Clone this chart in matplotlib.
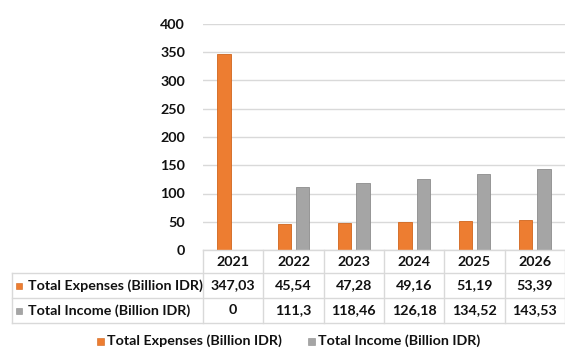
import matplotlib
matplotlib.use("Agg")
import matplotlib.pyplot as plt
from matplotlib.transforms import blended_transform_factory
from matplotlib.lines import Line2D
from matplotlib.patches import Rectangle

years = ["2021", "2022", "2023", "2024", "2025", "2026"]
expenses = [347.03, 45.54, 47.28, 49.16, 51.19, 53.39]
income = [0, 111.3, 118.46, 126.18, 134.52, 143.53]
expenses_labels = ["347,03", "45,54", "47,28", "49,16", "51,19", "53,39"]
income_labels = ["0", "111,3", "118,46", "126,18", "134,52", "143,53"]
series_names = ["Total Expenses (Billion IDR)", "Total Income (Billion IDR)"]
yticks = [0, 50, 100, 150, 200, 250, 300, 350, 400]

ORANGE = "#ED7D31"
ORANGE_EDGE = "#D0651C"
GRAY = "#A5A5A5"
GRAY_EDGE = "#8C8C8C"
GRID = "#D9D9D9"

plt.rcParams['font.family'] = ['Lato', 'DejaVu Sans']
FONT = dict(fontweight='bold', fontsize=10.3, color='#111111')

W, H = 565, 349
fig = plt.figure(figsize=(W / 100, H / 100), dpi=100)

def fx(px):
    return px / W

def fy(py):
    return 1 - py / H

left, right, top, bottom = 203, 565, 24, 250
ax = fig.add_axes([fx(left), fy(bottom), fx(right) - fx(left), fy(top) - fy(bottom)])

x = list(range(len(years)))
bw = 0.22
off = 0.15
ax.bar([i - off for i in x], expenses, width=bw, color=ORANGE, edgecolor=ORANGE_EDGE, linewidth=0.6, zorder=3)
ax.bar([i + off for i in x], income, width=bw, color=GRAY, edgecolor=GRAY_EDGE, linewidth=0.6, zorder=3)
ax.set_xlim(-0.5, len(years) - 0.5)
ax.set_ylim(0, 400)
ax.set_yticks(yticks)
ax.set_yticklabels([str(t) for t in yticks], **FONT)
ax.set_xticks([])
ax.yaxis.grid(True, color=GRID, linewidth=1, zorder=0)
ax.tick_params(axis='y', length=0, pad=13)
for s in ax.spines.values():
    s.set_visible(False)

# table drawn in figure pixel coordinates for y, data coordinates for x
tr = blended_transform_factory(ax.transData, fig.transFigure)
trf = fig.transFigure
row_y = [250, 273, 298, 323]
tbl_left = 12

def hline(x0px, y):
    fig.add_artist(Line2D([fx(x0px), 1], [fy(y), fy(y)], transform=trf, color=GRID, lw=1))

hline(left, row_y[0])
for y in row_y[1:]:
    hline(tbl_left, y)
for b in range(len(years) + 1):
    xb = b - 0.5
    fig.add_artist(Line2D([xb, xb], [fy(row_y[0]), fy(row_y[3])], transform=tr, color=GRID, lw=1))
fig.add_artist(Line2D([fx(tbl_left), fx(tbl_left)], [fy(row_y[1]), fy(row_y[3])], transform=trf, color=GRID, lw=1))

def mid(r):
    return fy((row_y[r] + row_y[r + 1]) / 2)

for i in x:
    fig.text(i, mid(0), years[i], transform=tr, ha='center', va='center', **FONT)
    fig.text(i, mid(1), expenses_labels[i], transform=tr, ha='center', va='center', **FONT)
    fig.text(i, mid(2), income_labels[i], transform=tr, ha='center', va='center', **FONT)

for r, (name, col, ec) in enumerate(zip(series_names, [ORANGE, GRAY], [ORANGE_EDGE, GRAY_EDGE])):
    yc = (row_y[r + 1] + row_y[r + 2]) / 2
    fig.add_artist(Rectangle((fx(16), fy(yc + 3)), fx(6), fy(yc - 3) - fy(yc + 3), transform=trf,
                             facecolor=col, edgecolor=ec, lw=0.4))
    fig.text(fx(28), fy(yc), name, ha='left', va='center', **FONT)

# legend
ly = 341
for name, col, ec, sx, tx in zip(series_names, [ORANGE, GRAY], [ORANGE_EDGE, GRAY_EDGE], [97, 308], [107, 318]):
    fig.add_artist(Rectangle((fx(sx), fy(ly + 3.5)), fx(7), fy(ly - 3.5) - fy(ly + 3.5), transform=trf,
                             facecolor=col, edgecolor=ec, lw=0.4))
    fig.text(fx(tx), fy(ly), name, ha='left', va='center', **FONT)

fig.savefig("out.png", dpi=100)
